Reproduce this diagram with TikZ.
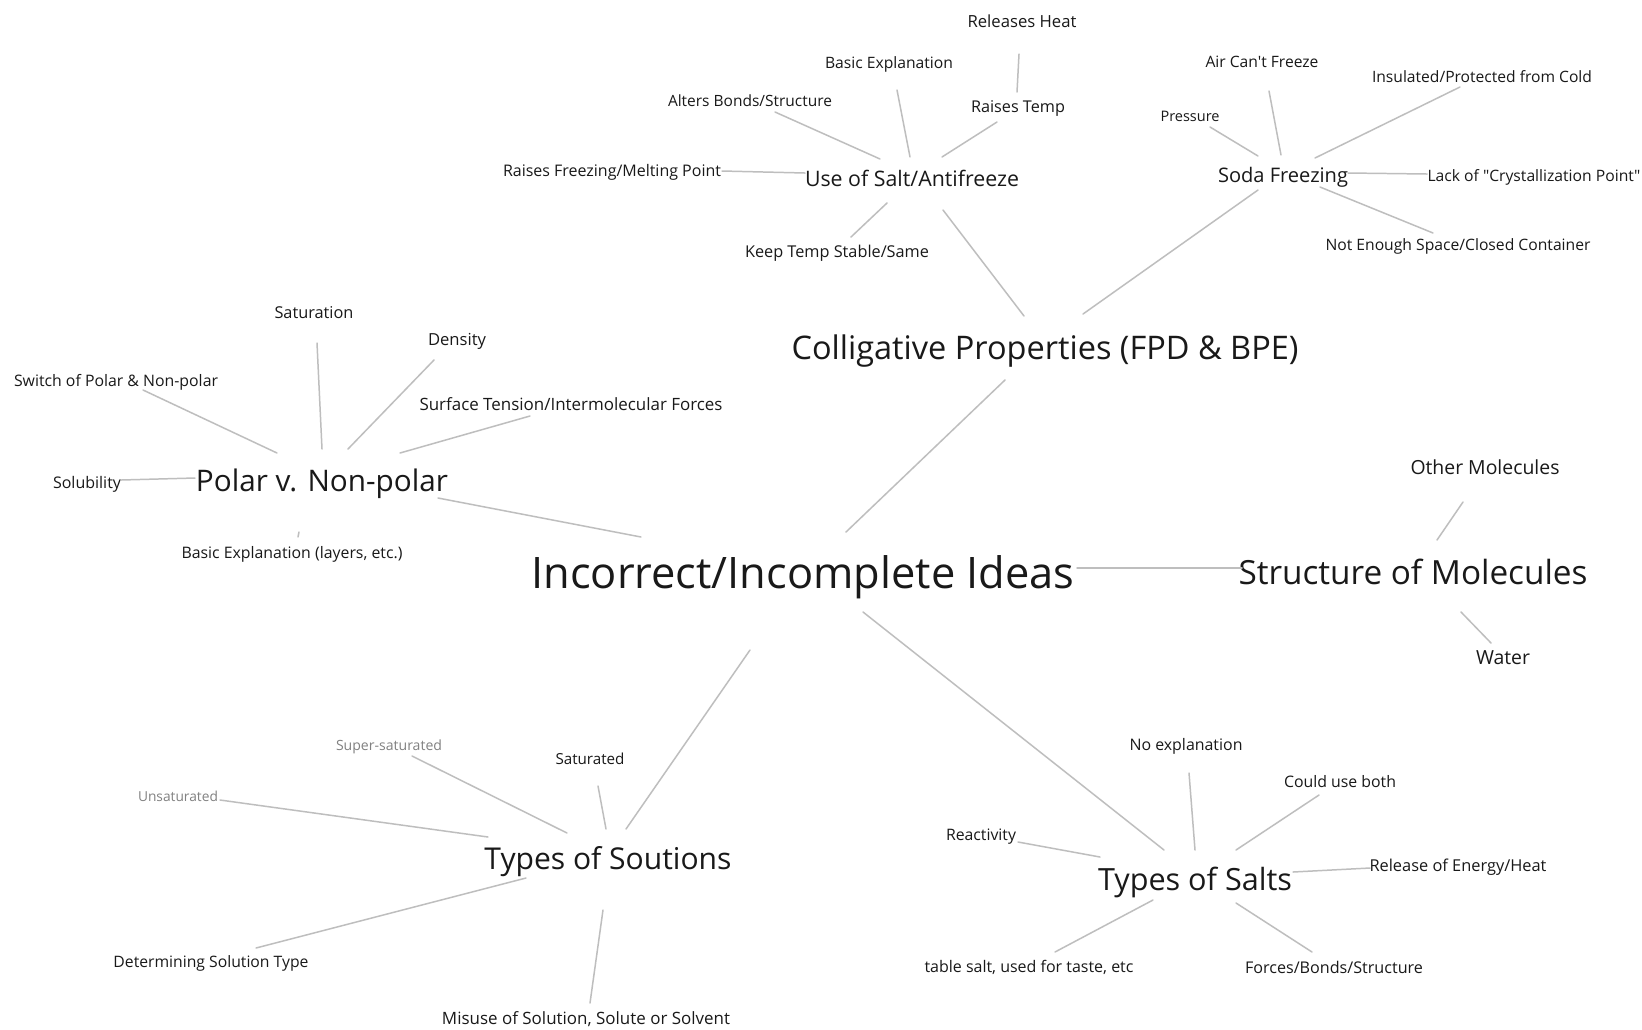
\documentclass[tikz,border=0pt]{standalone}
\usepackage{fontspec}
\usepackage{graphicx}
\newfontfamily\lbl{Open Sans}
\usetikzlibrary{calc}
\definecolor{ink}{RGB}{25,25,25}
\definecolor{linkgray}{RGB}{190,190,190}
% one drawing unit = one pixel of a 1642 x 1029 canvas
\newlength\pxlen
\setlength\pxlen{0.02cm}
% set a label at a given width (in canvas pixels)
\newcommand\fw[2]{\resizebox{#1\pxlen}{!}{#2}}
% connector between two labels, each end given as an offset from the label's base point
\newcommand\link[4]{\draw[link] ($(#1.base)+(#2)$) -- ($(#3.base)+(#4)$);}
\begin{document}
\begin{tikzpicture}[x=0.02cm,y=-0.02cm,
  lbl/.style={anchor=base,inner sep=0pt,font=\lbl,text=ink},
  faint/.style={lbl,text=ink!55},
  link/.style={draw=linkgray,line width=0.85pt,line cap=round}]
\fill[white] (0,0) rectangle (1642,1029);
\useasboundingbox (0,0) rectangle (1642,1029);

% central idea and main branches
\node[lbl] (inc)   at (803,588)  {\fw{543}{Incorrect/Incomplete Ideas}};
\node[lbl] (col)   at (1045,359) {\fw{507}{Colligative Properties (FPD \& BPE)}};
\node[lbl] (str)   at (1413,584) {\fw{349}{Structure of Molecules}};
\node[lbl] (pol)   at (322,491)  {\fw{252}{Polar v. Non-polar}};
\node[lbl] (sol)   at (608,869)  {\fw{247}{Types of Soutions}};
\node[lbl] (salts) at (1195,890) {\fw{194}{Types of Salts}};
\node[lbl] (use)   at (912,186)  {\fw{214}{Use of Salt/Antifreeze}};
\node[lbl] (soda)  at (1283,182) {\fw{130}{Soda Freezing}};

% salt / antifreeze details
\node[lbl] (relh) at (1022,27)  {\fw{109}{Releases Heat}};
\node[lbl] (basx) at (889,68)   {\fw{128}{Basic Explanation}};
\node[lbl] (rtmp) at (1018,112) {\fw{94}{Raises Temp}};
\node[lbl] (alt)  at (750,106)  {\fw{164}{Alters Bonds/Structure}};
\node[lbl] (rfmp) at (612,176)  {\fw{218}{Raises Freezing/Melting Point}};
\node[lbl] (keep) at (837,257)  {\fw{184}{Keep Temp Stable/Same}};

% soda freezing details
\node[lbl] (air)  at (1262,67)  {\fw{113}{Air Can't Freeze}};
\node[lbl] (ins)  at (1482,82)  {\fw{220}{Insulated/Protected from Cold}};
\node[lbl] (prs)  at (1190,121) {\fw{59}{Pressure}};
\node[lbl] (lack) at (1534,181) {\fw{213}{Lack of "Crystallization Point"}};
\node[lbl] (note) at (1458,250) {\fw{265}{Not Enough Space/Closed Container}};

% structure of molecules details
\node[lbl] (oth) at (1485,474) {\fw{149}{Other Molecules}};
\node[lbl] (wat) at (1503,664) {\fw{54}{Water}};

% polar / non-polar details
\node[lbl] (satn) at (314,318) {\fw{79}{Saturation}};
\node[lbl] (dens) at (457,345) {\fw{58}{Density}};
\node[lbl] (swi)  at (116,386) {\fw{204}{Switch of Polar \& Non-polar}};
\node[lbl] (surf) at (571,410) {\fw{303}{Surface Tension/Intermolecular Forces}};
\node[lbl] (solu) at (87,488)  {\fw{68}{Solubility}};
\node[lbl] (bex)  at (292,558) {\fw{221}{Basic Explanation (layers, etc.)}};

% solution types details
\node[faint] (sup) at (389,750) {\fw{106}{Super-saturated}};
\node[lbl] (satd)  at (590,764) {\fw{69}{Saturated}};
\node[faint] (uns) at (178,801) {\fw{80}{Unsaturated}};
\node[lbl] (det)   at (211,967) {\fw{195}{Determining Solution Type}};
\node[lbl] (mis)   at (586,1024) {\fw{288}{Misuse of Solution, Solute or Solvent}};

% salt types details
\node[lbl] (noe) at (1186,750)  {\fw{113}{No explanation}};
\node[lbl] (cub) at (1340,787)  {\fw{112}{Could use both}};
\node[lbl] (rea) at (981,840)   {\fw{70}{Reactivity}};
\node[lbl] (rel) at (1458,871)  {\fw{177}{Release of Energy/Heat}};
\node[lbl] (tab) at (1029,972)  {\fw{209}{table salt, used for taste, etc}};
\node[lbl] (frc) at (1334,973)  {\fw{178}{Forces/Bonds/Structure}};

% connectors
\link{relh}{-3,27}{rtmp}{-1,-20}
\link{basx}{8,22}{use}{-2,-29}
\link{rtmp}{-21,10}{use}{30,-29}
\link{alt}{25,6}{use}{-32,-27}
\link{rfmp}{110,-5}{use}{-107,-13}
\link{keep}{14,-20}{use}{-25,17}
\link{use}{31,24}{col}{-21,-43}
\link{air}{7,24}{soda}{-2,-27}
\link{prs}{20,6}{soda}{-25,-26}
\link{ins}{-22,5}{soda}{32,-24}
\link{soda}{65,-9}{lack}{-107,-7}
\link{soda}{37,5}{note}{-25,-17}
\link{soda}{-25,8}{col}{38,-45}
\link{col}{-40,21}{inc}{43,-56}
\link{inc}{274,-20}{str}{-171,-16}
\link{oth}{-22,28}{str}{24,-44}
\link{str}{48,28}{wat}{-12,-21}
\link{pol}{116,7}{inc}{-162,-51}
\link{satn}{3,25}{pol}{0,-42}
\link{dens}{-23,15}{pol}{26,-42}
\link{swi}{27,4}{pol}{-45,-38}
\link{surf}{-41,6}{pol}{78,-38}
\link{solu}{34,-8}{pol}{-127,-13}
\link{bex}{6,-21}{pol}{-23,41}
\link{inc}{-53,62}{sol}{18,-40}
\link{sup}{23,6}{sol}{-41,-36}
\link{satd}{8,22}{sol}{-2,-40}
\link{uns}{42,-1}{sol}{-120,-32}
\link{det}{45,-19}{sol}{-82,9}
\link{mis}{4,-21}{sol}{-5,41}
\link{inc}{60,24}{salts}{-31,-40}
\link{noe}{3,23}{salts}{0,-40}
\link{cub}{-21,8}{salts}{41,-40}
\link{rea}{37,2}{salts}{-95,-33}
\link{rel}{-88,-3}{salts}{98,-18}
\link{tab}{26,-20}{salts}{-42,10}
\link{frc}{-22,-21}{salts}{41,13}
\end{tikzpicture}
\end{document}
